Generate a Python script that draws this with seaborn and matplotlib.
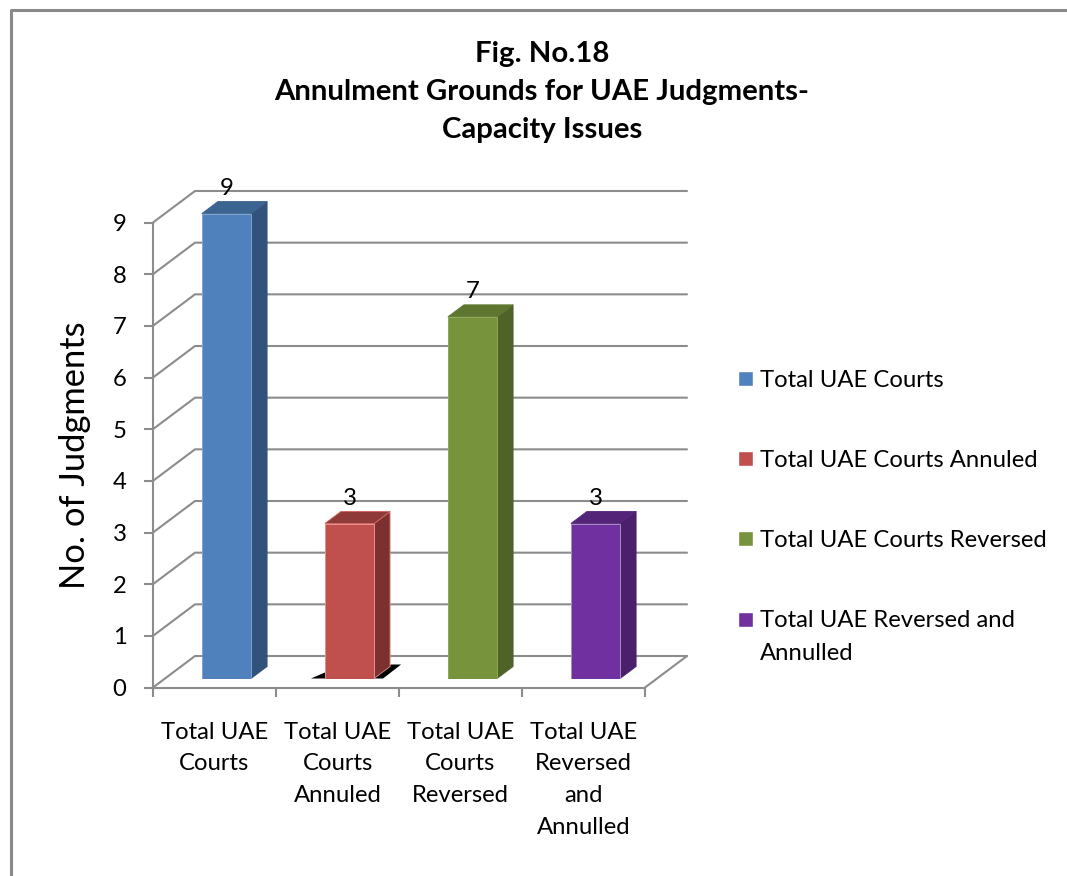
import matplotlib.pyplot as plt
import pandas as pd
import seaborn as sns
from matplotlib.patches import Polygon

# values
tick_labels = ['Total UAE\nCourts', 'Total UAE\nCourts\nAnnuled', 'Total UAE\nCourts\nReversed',
               'Total UAE\nReversed\nand\nAnnulled']
legend_labels = ['Total UAE Courts', 'Total UAE Courts Annuled', 'Total UAE Courts Reversed',
                 'Total UAE Reversed and\nAnnulled']
judgments = [9, 3, 7, 3]
front_colors = ['#4f81bd', '#c0504d', '#77933c', '#7030a0']
top_colors = ['#3b6491', '#8f3a38', '#5f7630', '#542479']
side_colors = ['#31527a', '#7b312f', '#4f6228', '#4a1f6b']
edge_colors = ['#7fa3d0', '#e8908c', '#8fa858', '#a98cc4']
title = 'Fig. No.18\nAnnulment Grounds for UAE Judgments-\nCapacity Issues'

W, H = 1067, 876
GRAY = '#8c8c8c'
LW = 1.5


def px_box(left, right, top, bottom):
    return [left / W, 1 - bottom / H, (right - left) / W, (bottom - top) / H]


sns.set_theme(style='white')
plt.rcParams['font.family'] = ['Lato', 'DejaVu Sans']

df = pd.DataFrame({'court': tick_labels, 'kind': legend_labels, 'n': judgments})

fig = plt.figure(figsize=(W / 100, H / 100), dpi=100)
fig.patch.set_facecolor('white')

# outer chart border, it runs off the picture to the right and bottom
fig.add_artist(plt.Line2D([10.5 / W, 10.5 / W, 1], [0, 1 - 10 / H, 1 - 10 / H], color='#8a8a8a', lw=2.2))

# front plane of the 3d box
ax = fig.add_axes(px_box(153, 645, 222.5, 687.5))
ax.set_xlim(-0.5, 3.5)
ax.set_ylim(0, 9)
ax.patch.set_alpha(0)

# depth of the box and depth of a bar, as data units
unit_x = (645 - 153) / 4
unit_y = (687.5 - 222.5) / 9
box_dx, box_dy = 42 / unit_x, 31.5 / unit_y
bar_dx, bar_dy = 16 / unit_x, 12 / unit_y

y_ticks = list(range(10))
for v in y_ticks:
    ax.plot([-0.5, -0.5 + box_dx, 3.5 + box_dx], [v, v + box_dy, v + box_dy],
            color=GRAY, lw=LW, clip_on=False, zorder=1, solid_joinstyle='miter')
ax.plot([3.5, 3.5 + box_dx], [0, box_dy], color=GRAY, lw=LW, clip_on=False, zorder=1)
ax.plot([-0.5, 3.5], [0, 0], color=GRAY, lw=LW, clip_on=False, zorder=1)

sns.despine(ax=ax, top=True, right=True, bottom=True, left=False)
ax.spines['left'].set_color(GRAY)
ax.spines['left'].set_linewidth(LW)
ax.set_yticks(y_ticks)
ax.set_xticks([i - 0.5 for i in range(5)])
ax.set_xticklabels([])
ax.set_xticks(range(4), tick_labels, minor=True, fontsize=17.2, linespacing=1.63, color='black', va='top')
ax.tick_params(axis='x', which='major', length=6.5, width=LW, color=GRAY, bottom=True)
ax.tick_params(axis='x', which='minor', length=0, pad=24.5)
ax.tick_params(axis='y', length=6.5, width=LW, color=GRAY, left=True, labelsize=17.2, pad=12.5, labelcolor='black')
ax.set_ylabel('No. of Judgments', fontsize=24.8, color='black', labelpad=15.5)

# bars stand a little inside the box, so they get their own axes
bar_ax = fig.add_axes(px_box(165, 657, 213.5, 678.5), zorder=3)
bar_ax.patch.set_alpha(0)
sns.barplot(data=df, x='court', y='n', hue='kind', hue_order=legend_labels, palette=front_colors,
            dodge=False, width=0.4, saturation=1, ax=bar_ax, legend=True, zorder=3)
bar_ax.set_xlim(-0.5, 3.5)
bar_ax.set_ylim(0, 9)
bar_ax.set_xlabel('')
bar_ax.set_ylabel('')
bar_ax.set_xticks([])
bar_ax.set_yticks([])
sns.despine(ax=bar_ax, left=True, bottom=True)

bars = sorted([b for c in bar_ax.containers for b in c], key=lambda b: b.get_x())
for i, bar in enumerate(bars):
    x0, x1 = bar.get_x(), bar.get_x() + bar.get_width()
    h = bar.get_height()
    bar.set_edgecolor(edge_colors[i])
    bar.set_linewidth(0.7)
    # only the red bar has the pale rim on its 3d faces
    side_edge = edge_colors[i] if i == 1 else side_colors[i]
    top_edge = '#d0605c' if i == 1 else top_colors[i]
    side = Polygon([(x1, 0), (x1 + bar_dx, bar_dy), (x1 + bar_dx, h + bar_dy), (x1, h)],
                   fc=side_colors[i], ec=side_edge, lw=0.6, clip_on=False, zorder=2.5)
    top = Polygon([(x0, h), (x1, h), (x1 + bar_dx, h + bar_dy), (x0 + bar_dx, h + bar_dy)],
                  fc=top_colors[i], ec=top_edge, lw=0.6, clip_on=False, zorder=2.5)
    bar_ax.add_patch(side)
    bar_ax.add_patch(top)
    bar_ax.annotate(str(judgments[i]), (bar.get_x() + bar.get_width() / 2, h), xytext=(0, 18),
                    textcoords='offset points', ha='center', va='center', fontsize=17.2, color='black',
                    annotation_clip=False, zorder=5)

# stray black shadow at the foot of the red bar
red = bars[1]
rx0, rx1 = red.get_x(), red.get_x() + red.get_width()
bar_ax.add_patch(Polygon([(rx0 - 14 / unit_x, 0), (rx1 + 9 / unit_x, 0), (rx1 + 27 / unit_x, 14 / unit_y),
                          (rx1 + 17 / unit_x, 14 / unit_y), (rx1, 6 / unit_y), (rx0, 6 / unit_y)],
                         fc='black', ec='none', clip_on=False, zorder=2))

sns.move_legend(bar_ax, 'upper left', bbox_to_anchor=(738 / W, 1 - 370 / H),
                bbox_transform=fig.transFigure, title=None, frameon=False, fontsize=17.2,
                handlelength=0.62, handleheight=0.62, handletextpad=0.3, labelspacing=2.47,
                borderpad=0, borderaxespad=0)
legend = bar_ax.get_legend()
for t in legend.get_texts():
    t.set_linespacing(1.7)
    t.set_color('black')
# swatch of the two line entry sits on its first line
last_handle = legend.legend_handles[-1]
last_handle.set_y(last_handle.get_y() + 12.5)

fig.text(542 / W, 1 - 92 / H, title, ha='center', va='center', fontsize=21.2, fontweight='bold',
         linespacing=1.56, color='black')

fig.savefig('out.png', dpi=100)
